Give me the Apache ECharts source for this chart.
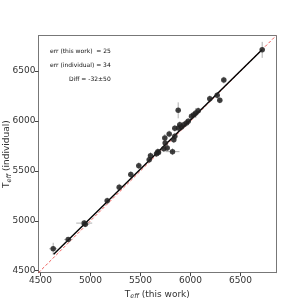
<!DOCTYPE html>
<html><head><meta charset="utf-8">
<script src="https://cdn.jsdelivr.net/npm/echarts@6/dist/echarts.min.js"></script>
<style>html,body{margin:0;padding:0;background:#fff}#c{width:307px;height:307px}</style>
</head><body><div id="c"></div>
<script>
// Teff (this work)
var xThis = [4627,4777,4937,4948,5167,5287,5403,5483,5587,5600,5660,5673,5680,5733,5743,5747,5767,5787,5820,5833,5843,5843,5877,5880,5893,5910,5933,5960,5977,6010,6033,6053,6077,6193,6267,6293,6333,6717];
// Teff (individual)
var yInd  = [4720,4813,4977,4965,5200,5337,5463,5553,5613,5653,5673,5693,5685,5723,5830,5780,5730,5870,5693,5813,5847,5927,6107,5930,5963,5940,5963,5980,5997,6047,6063,6080,6103,6223,6257,6207,6410,6713];
// horizontal / vertical error half-widths
var xErr  = [40,40,80,40,25,25,25,25,25,25,25,25,25,25,25,25,25,25,70,25,25,25,25,25,25,25,25,25,25,25,25,25,25,25,25,25,25,25];
var yErr  = [60,20,30,30,34,34,34,34,34,34,34,34,34,34,40,34,34,34,34,34,34,34,80,34,34,34,34,34,34,34,34,50,34,34,34,30,34,80];
// fit line end points
var fitX = [4632, 6715];
var fitY = [4666, 6714];
// one-to-one line
var oneX = [4480, 6855];
var tickVals = [4500,5000,5500,6000,6500];
var notes = ['err (this work)  = 25','err (individual) = 34','Diff = -32\u00b150'];

var pts = xThis.map(function(v,i){return [v,yInd[i]];});
var errs = xThis.map(function(v,i){return [v,yInd[i],xErr[i],yErr[i]];});

var axisCommon = {
  type:'value', min:4480, max:6855,
  splitLine:{show:false},
  nameMoveOverlap:false,
  axisLine:{show:true,onZero:false,lineStyle:{color:'#777',width:1}},
  axisTick:{show:true,inside:false,length:3.5,lineStyle:{color:'#444'},customValues:tickVals},
  axisLabel:{show:true,color:'#333',fontSize:9,fontFamily:'DejaVu Sans',margin:3,customValues:tickVals,
    formatter:function(v){return String(v);}},
  nameTextStyle:{color:'#333',fontSize:9,fontFamily:'DejaVu Sans',
    rich:{s:{fontSize:6.5,fontStyle:'italic',color:'#333',fontFamily:'DejaVu Sans',padding:[4,0,0,0]}}}
};
var frame = {type:'value',min:4480,max:6855,splitLine:{show:false},axisLine:{show:true,lineStyle:{color:'#777'}},axisTick:{show:false},axisLabel:{show:false}};

var chart = echarts.init(document.getElementById('c'),null,{renderer:'canvas'});
chart.setOption({
  animation:false,
  grid:{left:38.5,right:31,top:35.7,bottom:34.3,containLabel:false,outerBoundsMode:'none'},
  xAxis:[Object.assign({},axisCommon,{position:'bottom',name:'T{s|eff} (this work)',nameLocation:'middle',nameGap:16}),
         Object.assign({},frame,{position:'top'})],
  yAxis:[Object.assign({},axisCommon,{position:'left',name:'T{s|eff} (individual)',nameLocation:'middle',nameGap:26}),
         Object.assign({},frame,{position:'right'})],
  graphic:[
    {type:'text',left:50,top:48,z:100,style:{text:notes[0],fontSize:6,fontFamily:'DejaVu Sans',fill:'#111'}},
    {type:'text',left:50,top:62,z:100,style:{text:notes[1],fontSize:6,fontFamily:'DejaVu Sans',fill:'#111'}},
    {type:'text',left:69,top:76,z:100,style:{text:notes[2],fontSize:6,fontFamily:'DejaVu Sans',fill:'#111'}}
  ],
  series:[
    {type:'line',data:[[oneX[0],oneX[0]],[oneX[1],oneX[1]]],symbol:'none',
     lineStyle:{color:'#e8322e',width:0.8,type:[3,2]},z:1},
    {type:'custom',data:errs,z:2,renderItem:function(p,api){
      var x=api.value(0),y=api.value(1),ex=api.value(2),ey=api.value(3);
      var a=api.coord([x-ex,y]),b=api.coord([x+ex,y]),c=api.coord([x,y-ey]),d=api.coord([x,y+ey]);
      return {type:'group',children:[
        {type:'line',shape:{x1:a[0],y1:a[1],x2:b[0],y2:b[1]},style:{stroke:'#999',lineWidth:0.8}},
        {type:'line',shape:{x1:c[0],y1:c[1],x2:d[0],y2:d[1]},style:{stroke:'#999',lineWidth:0.8}}
      ]};
    }},
    {type:'line',data:[[fitX[0],fitY[0]],[fitX[1],fitY[1]]],symbol:'none',
     lineStyle:{color:'#000',width:1.4},z:3},
    {type:'scatter',data:pts,symbol:'circle',symbolSize:5.5,
     itemStyle:{color:'#222',opacity:0.85},z:4}
  ]
});
</script></body></html>
